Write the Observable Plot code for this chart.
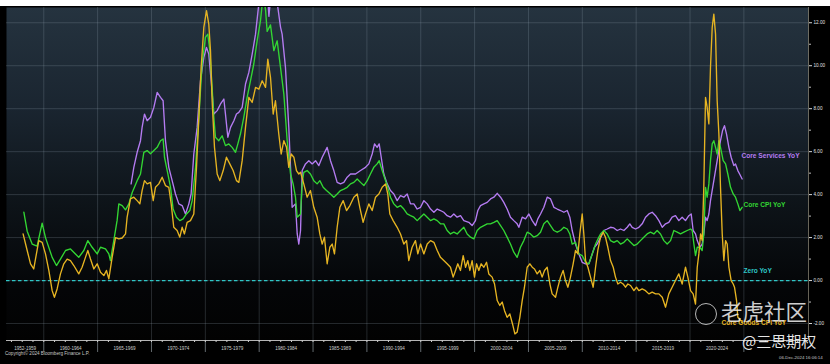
<!DOCTYPE html>
<html><head><meta charset="utf-8">
<script src="https://cdn.jsdelivr.net/npm/d3@7"></script>
<script src="https://cdn.jsdelivr.net/npm/@observablehq/plot@0.6"></script>
<style>
html,body{margin:0;padding:0;background:#fff;}
#wrap{position:relative;width:830px;height:364px;background:#fff;overflow:hidden;}
#chart{position:absolute;left:0;top:6px;width:830px;height:358px;background:#000;}
#chart svg{display:block;}
.ov{position:absolute;white-space:nowrap;font-family:"Liberation Sans",Arial,sans-serif;}
#copy{left:5px;top:351px;font-size:4.6px;color:#c8c8c8;}
#stamp{left:779px;top:355px;font-size:4.4px;color:#c8c8c8;}
#wm1{left:721px;top:300px;font-family:"Noto Sans CJK SC",sans-serif;font-size:21.5px;line-height:1;color:rgba(235,235,235,0.88);}
#wm2{left:742px;top:333px;font-family:"Noto Sans CJK SC",sans-serif;font-size:15px;line-height:1;color:rgba(245,245,245,0.95);}
#logo{left:695px;top:303px;width:20px;height:20px;border:1.5px solid rgba(225,225,225,0.8);border-radius:50%;}
</style>
</head><body>
<div id="wrap">
  <div id="chart"></div>
  <div class="ov" id="copy">Copyright© 2024 Bloomberg Finance L.P.</div>
  <div class="ov" id="stamp">06-Dec-2024 16:06:14</div>
  <div class="ov" id="logo"></div>
  <div class="ov" id="wm1">老虎社区</div>
  <div class="ov" id="wm2">@三思期权</div>
</div>
<script>
// ---------- DATA ----------
const coreCpiYears = [1958.15,1958.46,1958.92,1959.38,1959.85,1960.16,1960.78,1961.18,1961.55,1962.02,1962.48,1962.94,1963.25,1963.72,1964.09,1964.49,1964.96,1965.27,1965.73,1966.04,1966.19,1966.50,1966.81,1966.97,1967.28,1967.59,1967.90,1968.21,1968.67,1968.98,1969.29,1969.60,1969.91,
1970.22,1970.53,1970.84,1971.08,1971.21,1971.46,1971.77,1972.01,1972.32,1972.63,1972.94,1973.25,1973.56,1973.78,1974.09,1974.40,1974.70,1975.01,1975.23,1975.42,1975.63,1975.79,1975.94,1976.25,1976.56,1976.87,1977.18,1977.49,1977.80,1978.02,1978.26,1978.57,1978.88,1979.19,1979.50,1979.81,1980.12,1980.37,1980.59,1980.74,1981.05,1981.36,1981.67,1981.98,1982.29,1982.60,1982.91,1983.15,1983.37,1983.53,1983.84,
1983.99,1984.14,1984.45,1984.76,1985.07,1985.38,1985.63,1985.94,1986.25,1986.62,1986.93,1987.24,1987.55,1987.86,1988.17,1988.48,1988.79,1989.10,1989.41,1989.72,1990.03,1990.33,1990.64,1990.95,1991.14,1991.42,1991.73,1991.94,1992.19,1992.50,1992.81,1993.12,1993.43,1993.74,1994.05,1994.36,1994.67,1994.98,1995.29,1995.60,1995.91,1996.22,1996.53,1996.83,1997.14,1997.45,1997.76,
1998.07,1998.38,1998.69,1999.00,1999.31,1999.62,1999.93,2000.24,2000.55,2000.86,2001.17,2001.48,2001.79,2002.10,2002.41,2002.71,2003.02,2003.33,2003.64,2003.95,2004.26,2004.57,2004.88,2005.19,2005.50,2005.81,2006.12,2006.43,2006.74,2007.05,2007.36,2007.67,2007.98,2008.29,2008.60,2008.84,2009.06,2009.37,2009.68,2009.99,2010.30,2010.61,2010.92,2011.23,2011.54,
2011.69,2012.00,2012.31,2012.62,2012.93,2013.24,2013.55,2013.86,2014.17,2014.48,2014.79,2015.09,2015.40,2015.71,2016.02,2016.33,2016.64,2016.95,2017.26,2017.57,2017.88,2018.19,2018.50,2018.81,2019.12,2019.43,2019.74,2020.05,2020.20,2020.36,2020.51,2020.67,2020.91,2021.13,2021.28,2021.44,2021.59,2021.75,2021.90,2022.06,2022.21,2022.37,2022.52,2022.68,2022.83,2023.08,2023.30,2023.51,2023.76,2024.01,2024.22,2024.44,2024.63,2024.84];
const coreCpiValues = [3.18,2.3,1.7,1.6,2.67,2.0,1.08,0.7,1.0,1.4,1.47,1.24,1.08,1.4,1.86,1.55,1.24,1.55,1.47,1.24,0.93,1.86,2.8,3.57,3.49,3.29,3.57,4.1,4.65,4.96,5.97,6.05,5.9,
6.05,6.2,6.51,6.59,5.74,5.12,4.34,3.33,2.95,2.79,2.87,3.1,3.26,3.72,5.27,7.6,10.08,11.32,11.47,10.7,8.99,7.6,6.67,6.51,6.74,6.28,6.36,6.2,5.97,6.36,6.82,7.6,8.53,9.3,10.08,11.16,12.09,13.3,12.6,11.6,11.9,10.7,11.16,9.92,8.68,6.51,4.96,4.5,3.88,2.95,3.1,
4.5,5.04,5.12,4.96,4.65,4.5,4.65,4.34,4.19,4.03,3.88,4.03,4.19,4.26,4.34,4.5,4.57,4.73,4.57,4.42,4.65,4.96,5.27,5.43,5.58,5.12,4.65,4.34,3.88,3.57,3.41,3.49,3.33,3.1,3.02,2.95,2.79,2.95,3.1,2.95,2.79,2.87,2.79,2.64,2.64,2.33,2.17,
2.25,2.17,2.33,2.48,2.17,2.02,1.94,2.33,2.48,2.56,2.64,2.64,2.71,2.79,2.56,2.33,2.02,1.7,1.32,1.08,1.55,1.86,2.25,2.17,2.02,2.09,2.25,2.64,2.79,2.56,2.33,2.25,2.33,2.48,2.4,2.17,1.7,1.78,1.24,1.16,0.85,0.78,1.24,1.7,2.02,
2.17,2.33,2.17,1.86,1.78,1.86,1.7,1.78,1.94,1.78,1.63,1.7,1.86,2.02,2.17,2.25,2.17,2.33,2.17,1.86,1.7,1.86,2.33,2.25,2.17,2.25,2.33,2.4,2.33,1.7,1.16,1.55,1.55,1.4,2.17,4.34,3.88,4.5,5.58,6.36,6.51,6.2,5.89,6.51,6.2,5.58,5.43,4.96,4.34,4.03,3.88,3.57,3.26,3.41];

const servicesYears = [1968.11,1968.36,1968.67,1968.98,1969.13,1969.35,1969.60,1969.91,1970.22,1970.53,1970.84,1971.08,1971.30,1971.61,1971.92,1972.23,1972.54,1972.85,1973.16,1973.47,1973.68,1973.93,1974.24,1974.55,1974.86,1975.11,1975.32,1975.54,1975.79,1976.10,1976.41,1976.72,1976.87,1977.09,1977.34,1977.65,1977.89,1978.11,1978.42,1978.73,1979.04,1979.35,1979.66,1979.97,1980.30,1980.60,1980.90,1981.20,1981.60,1981.98,1982.13,1982.44,1982.75,1982.91,1983.06,1983.37,1983.53,1983.68,1983.84,
1983.99,1984.30,1984.61,1984.92,1985.23,1985.54,1985.85,1986.16,1986.31,1986.62,1986.93,1987.24,1987.55,1987.86,1988.17,1988.48,1988.94,1989.41,1989.87,1990.18,1990.49,1990.71,1990.95,1991.14,1991.33,1991.57,1991.88,1992.19,1992.50,1992.81,1993.12,1993.43,1993.74,1994.05,1994.36,1994.67,1994.98,1995.29,1995.60,1995.91,1996.22,1996.53,1996.83,1997.14,1997.45,1997.76,
1998.07,1998.38,1998.69,1999.00,1999.46,1999.77,2000.08,2000.30,2000.55,2000.86,2001.17,2001.48,2001.79,2002.10,2002.41,2002.71,2003.02,2003.33,2003.64,2003.95,2004.11,2004.42,2004.73,2005.04,2005.35,2005.66,2005.87,2006.12,2006.43,2006.74,2007.05,2007.36,2007.67,2007.98,2008.29,2008.60,2008.84,2009.06,2009.37,2009.68,2009.99,2010.30,2010.61,2010.92,2011.13,2011.38,
2011.69,2012.00,2012.31,2012.62,2012.93,2013.24,2013.55,2013.86,2014.17,2014.41,2014.63,2014.94,2015.25,2015.56,2015.87,2016.18,2016.49,2016.80,2017.11,2017.42,2017.73,2018.03,2018.34,2018.65,2018.96,2019.27,2019.58,2019.89,2020.11,2020.29,2020.51,2020.67,2020.91,2021.13,2021.28,2021.44,2021.59,2021.75,2021.90,2022.21,2022.52,2022.83,2023.02,2023.20,2023.39,2023.61,2023.82,2024.07,2024.22,2024.44,2024.69,2024.84];
const servicesValues = [4.5,5.27,5.97,6.51,7.13,7.75,7.44,7.6,8.06,8.76,8.53,8.37,6.51,5.27,4.65,4.03,3.57,3.49,3.1,3.57,4.03,5.89,7.13,9.3,10.39,10.85,10.54,9.3,7.75,7.91,8.22,8.45,7.75,6.67,7.13,7.44,7.75,7.83,8.06,9.15,9.69,10.54,11.47,12.9,14.2,14.8,12.3,13.8,13.2,11.8,11.47,9.92,7.13,5.27,3.41,3.57,2.17,1.7,2.33,
5.12,5.43,5.58,5.43,5.58,5.35,5.74,6.05,6.2,5.58,5.12,4.57,4.5,4.57,4.81,4.96,4.96,5.12,5.27,5.43,5.89,6.36,6.2,6.36,5.74,4.96,4.5,4.19,4.03,3.72,3.95,3.88,4.03,3.57,3.57,3.33,3.41,3.72,3.57,3.33,3.18,3.33,3.26,3.18,3.02,2.95,
3.1,2.95,3.02,2.79,2.71,2.56,2.79,3.26,3.49,3.57,3.64,3.8,3.88,4.06,3.88,3.64,3.33,2.95,2.79,2.64,2.48,2.95,2.87,3.1,2.79,2.56,2.87,3.1,3.41,3.88,3.8,3.41,3.33,3.26,3.18,3.26,2.95,2.33,1.7,1.24,0.85,0.78,0.78,1.24,1.55,1.7,
2.0,2.33,2.4,2.48,2.45,2.33,2.4,2.33,2.48,2.64,2.48,2.4,2.48,2.64,2.95,3.1,3.18,3.02,2.79,2.48,2.64,2.71,2.95,3.02,2.79,2.95,2.79,3.02,3.1,2.33,2.17,1.86,1.55,1.7,2.17,2.95,2.79,3.1,3.72,4.65,5.58,6.51,6.98,7.21,6.82,6.2,5.74,5.35,5.43,5.12,4.88,4.73];

const goodsYears = [1958.08,1958.46,1958.77,1959.07,1959.23,1959.54,1959.85,1960.16,1960.47,1960.78,1960.99,1961.24,1961.55,1961.86,1962.17,1962.48,1962.79,1963.25,1963.56,1963.87,1964.09,1964.34,1964.65,1964.96,1965.27,1965.58,1965.82,1966.04,1966.35,1966.66,1966.97,1967.28,1967.59,1967.74,1968.05,1968.36,1968.67,1968.92,1969.13,1969.35,1969.60,1969.91,
1970.16,1970.37,1970.68,1970.99,1971.30,1971.61,1971.83,1972.07,1972.38,1972.63,1972.85,1973.06,1973.31,1973.62,1973.93,1974.18,1974.40,1974.61,1974.86,1975.11,1975.32,1975.48,1975.63,1975.85,1976.10,1976.35,1976.66,1976.96,1977.27,1977.58,1977.89,1978.11,1978.42,1978.73,1979.04,1979.35,1979.66,1979.97,1980.28,1980.59,1980.80,1981.05,1981.30,1981.51,1981.82,1982.04,1982.29,1982.54,1982.75,1982.97,1983.22,1983.46,1983.68,1983.84,
1984.14,1984.45,1984.76,1985.07,1985.38,1985.63,1985.85,1986.06,1986.31,1986.56,1986.78,1986.99,1987.24,1987.49,1987.80,1988.11,1988.42,1988.79,1989.10,1989.34,1989.65,1989.87,1990.18,1990.49,1990.80,1991.11,1991.42,1991.73,1991.94,1992.13,1992.44,1992.81,1993.12,1993.43,1993.68,1993.89,1994.20,1994.51,1994.73,1994.98,1995.29,1995.60,1995.91,1996.22,1996.53,1996.83,1997.14,1997.45,1997.76,
1998.01,1998.23,1998.44,1998.69,1998.94,1999.16,1999.37,1999.56,1999.77,1999.99,2000.18,2000.39,2000.61,2000.86,2001.11,2001.32,2001.63,2001.85,2002.10,2002.34,2002.56,2002.78,2003.02,2003.27,2003.52,2003.74,2003.95,2004.20,2004.42,2004.63,2004.88,2005.13,2005.35,2005.56,2005.81,2006.06,2006.27,2006.49,2006.74,2006.99,2007.20,2007.51,2007.73,2007.98,2008.22,2008.44,2008.66,2008.90,2009.15,2009.37,2009.59,2009.77,2009.99,2010.14,2010.30,2010.52,2010.76,2011.01,2011.23,2011.44,
2011.69,2011.94,2012.15,2012.37,2012.62,2012.87,2013.08,2013.30,2013.55,2013.79,2014.01,2014.23,2014.48,2014.79,2015.03,2015.25,2015.56,2015.87,2016.18,2016.49,2016.80,2017.11,2017.42,2017.73,2018.03,2018.34,2018.65,2018.96,2019.27,2019.58,2019.80,2020.05,2020.29,2020.51,2020.67,2020.82,2020.98,2021.13,2021.28,2021.44,2021.59,2021.75,2021.90,2022.06,2022.21,2022.37,2022.52,2022.68,2022.83,2022.99,2023.14,2023.30,2023.45,2023.61,2023.82,2024.01,2024.13,2024.32,2024.44,2024.69,2024.84];
const goodsValues = [2.17,1.4,0.78,0.54,1.0,1.86,1.78,1.24,0.47,-0.47,-0.78,-0.39,0.31,0.78,1.0,0.93,0.7,0.31,0.62,1.08,1.4,1.0,0.54,0.78,0.39,0.23,0.47,0.08,1.08,2.0,1.94,1.98,2.17,2.95,3.8,3.88,3.72,3.57,4.19,4.65,4.5,4.57,
3.72,4.34,4.5,4.81,4.42,4.34,3.57,2.48,2.33,2.02,2.48,2.17,2.71,2.79,3.1,5.27,7.6,9.92,11.78,12.56,11.94,10.7,8.37,6.2,4.96,4.65,5.12,5.74,5.43,5.12,4.65,4.57,5.58,7.13,8.53,8.29,8.99,8.91,9.3,8.99,10.31,9.46,7.75,8.37,6.82,5.89,6.51,6.2,5.27,5.89,5.74,5.12,4.96,5.04,
4.5,3.88,4.19,3.41,2.95,2.17,1.7,2.02,0.78,1.55,1.7,1.24,2.48,3.41,3.72,3.26,3.49,3.88,4.03,3.41,2.71,3.1,3.57,3.26,3.88,4.03,4.34,4.5,4.03,3.1,2.79,2.48,2.17,1.7,1.86,0.93,1.55,1.86,1.24,1.7,1.24,1.7,1.86,1.78,1.4,1.08,0.93,0.78,0.62,
0.16,0.47,0.78,0.47,1.16,0.62,0.93,0.47,0.93,0.16,0.78,0.47,0.78,0.62,0.85,0.31,0.16,-0.16,-0.93,-1.16,-1.0,-1.4,-1.71,-1.55,-2.02,-2.48,-2.4,-1.71,-0.93,-0.31,0.62,0.78,0.62,0.54,0.31,0.47,0.16,0.47,0.62,-0.16,-0.62,-0.78,-0.31,0.16,0.47,0.0,-0.31,0.16,0.78,1.4,1.24,2.17,3.1,2.17,0.93,0.62,0.16,-0.31,0.62,1.4,
2.02,2.25,2.02,1.55,0.93,0.62,0.16,-0.16,-0.08,-0.16,-0.31,-0.16,-0.23,-0.47,-0.31,-0.47,-0.39,-0.47,-0.62,-0.54,-0.62,-0.62,-0.78,-1.24,-0.62,-0.31,0.0,0.31,-0.16,0.62,0.16,-0.47,-0.62,-1.09,0.62,1.24,2.17,1.86,4.34,8.53,8.06,7.29,9.92,11.78,12.4,11.47,8.37,6.82,4.34,2.17,0.93,1.86,1.7,0.62,0.0,-0.16,-0.31,-0.93,-1.71,-1.86,-1.9];

const periodLabels = ["1952-1959","1960-1964","1965-1969","1970-1974","1975-1979","1980-1984","1985-1989","1990-1994","1995-1999","2000-2004","2005-2009","2010-2014","2015-2019","2020-2024"];
const periodMids = [1958.27,1962.5,1967.5,1972.5,1977.5,1982.5,1987.5,1992.5,1997.5,2002.5,2007.5,2012.5,2017.5,2022.5];
const periodBounds = [1960,1965,1970,1975,1980,1985,1990,1995,2000,2005,2010,2015,2020,2025];
const yTickValues = [-2,0,2,4,6,8,10,12];
const yMinorTicks = [-1,1,3,5,7,9,11];

const labelTexts = ["Core Services YoY","Core CPI YoY","Zero YoY","Core Goods CPI YoY"];
const labelYears = [2024.78,2024.96,2024.96,2022.92];
const labelValues = [5.81,3.53,0.47,-1.95];
const labelColors = ["#b57cf2","#33d633","#2fc6c6","#e6b422"];

// ---------- BUILD ----------
const xDomain = [1956.54, 2031.0];
const yDomain = [-2.79, 12.71];
const mk = (ys, vs) => ys.map((y, i) => ({year: y, value: vs[i]}));
const services = mk(servicesYears, servicesValues);
const coreCpi = mk(coreCpiYears, coreCpiValues);
const goods = mk(goodsYears, goodsValues);
const labels = labelTexts.map((t, i) => ({text: t, year: labelYears[i], value: labelValues[i], color: labelColors[i]}));
const periodMap = new Map(periodMids.map((m, i) => [m, periodLabels[i]]));
const years = d3.range(1957, 2031);

const gridColor = "#9fb0bf";
const plot = Plot.plot({
  width: 830, height: 358,
  marginLeft: 6, marginRight: 22, marginTop: 1, marginBottom: 24,
  style: {background: "transparent", fontFamily: "'Liberation Sans', Arial, sans-serif", color: "#d8d8d8", overflow: "visible"},
  x: {domain: xDomain, axis: null},
  y: {domain: yDomain, axis: null},
  marks: [
    Plot.frame({fill: "url(#bgGrad)", stroke: "none"}),
    Plot.gridY(yTickValues, {stroke: gridColor, strokeOpacity: 0.28, strokeWidth: 0.8}),
    Plot.gridX(periodBounds, {stroke: gridColor, strokeOpacity: 0.28, strokeWidth: 0.8}),
    Plot.axisX(periodBounds, {label: null, tickSize: 12, tickFormat: () => "", stroke: "#8c959c", strokeOpacity: 0.7}),
    Plot.axisX(years, {label: null, tickSize: 2, tickFormat: () => "", stroke: "#cfcfcf"}),
    Plot.axisX(periodMids, {label: null, tickSize: 0, tickPadding: 6, tickFormat: d => periodMap.get(d), fontSize: 4.6, fill: "#cfcfcf"}),
    Plot.ruleY([yDomain[0]], {stroke: "#c8c8c8", strokeWidth: 0.9}),
    Plot.ruleX([xDomain[1]], {stroke: "#b8b09a", strokeOpacity: 0.7, strokeWidth: 0.8}),
    Plot.ruleY([0], {stroke: "#2fc6c6", strokeWidth: 1.2, strokeDasharray: "3.5,2.5"}),
    Plot.line(services, {x: "year", y: "value", stroke: "#b57cf2", strokeWidth: 1.35, clip: true}),
    Plot.line(coreCpi, {x: "year", y: "value", stroke: "#33d633", strokeWidth: 1.35, clip: true}),
    Plot.line(goods, {x: "year", y: "value", stroke: "#e6b422", strokeWidth: 1.35, clip: true}),
    Plot.text(labels, {x: "year", y: "value", text: "text", fill: "color", textAnchor: "start", fontSize: 6.6, fontWeight: "bold"}),
    Plot.axisY(yTickValues, {label: null, anchor: "right", tickSize: 3, tickPadding: 2, fontSize: 4.6, tickFormat: d => d.toFixed(2), stroke: "#d8d8d8", fill: "#e0e0e0"}),
    Plot.axisY(yMinorTicks, {label: null, anchor: "right", tickSize: 2, tickFormat: () => "", stroke: "#bbbbbb"})
  ]
});

const svg = d3.select(plot);
const grad = svg.insert("defs", ":first-child").append("linearGradient")
  .attr("id", "bgGrad").attr("x1", 0).attr("y1", 0).attr("x2", 0).attr("y2", 1);
[[0, "#25333f"], [0.3, "#1a2530"], [0.6, "#0d1318"], [0.85, "#040507"], [1, "#020202"]]
  .forEach(([o, c]) => grad.append("stop").attr("offset", o).attr("stop-color", c));

document.getElementById("chart").appendChild(plot);
</script>
</body></html>
